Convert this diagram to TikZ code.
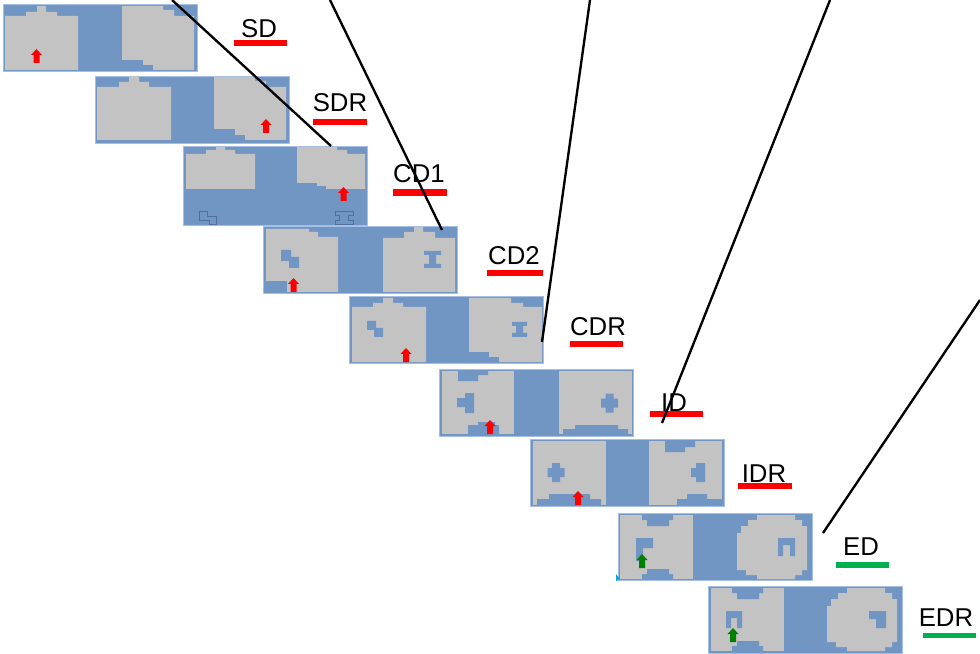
\documentclass[tikz,border=0pt]{standalone}
\usepackage{fontspec}
\setmainfont{Liberation Sans}
\usetikzlibrary{calc}

\definecolor{panelblue}{RGB}{113,150,196}
\definecolor{paneledge}{RGB}{165,192,228}
\definecolor{blobgray}{RGB}{195,195,195}
\definecolor{markgreen}{RGB}{0,128,0}
\definecolor{bargreen}{RGB}{0,176,80}
\definecolor{outlineblue}{RGB}{70,95,135}
\definecolor{cornercyan}{RGB}{0,170,230}

\tikzset{
  panel/.style={draw=paneledge, fill=panelblue, line width=0.8pt, anchor=north west,
    inner sep=0pt, minimum width=5.82cm, minimum height=2.01cm},
  blob/.style={fill=blobgray},
  hole/.style={fill=panelblue},
  ghost/.style={draw=outlineblue, line width=0.6pt, opacity=0.7},
  tag/.style={anchor=base, font=\fontsize{22}{24}\selectfont, inner sep=0pt},
  redbar/.style={fill=red},
  greenbar/.style={fill=bargreen},
  conn/.style={line width=2pt, black},
}

% block arrow, bottom centre at (#1,#2)
\newcommand{\markarrow}[3]{%
  \fill[#3] (#1,#2) ++(-3,0) -- ++(0,-8) -- ++(-2.5,0) -- ++(5.5,-6)
    -- ++(5.5,6) -- ++(-2.5,0) -- ++(0,8) -- cycle;}

\begin{document}
\begin{tikzpicture}[x=0.03cm, y=-0.03cm]
  \useasboundingbox (0,0) rectangle (980,654);

  % panels
  \node[panel] (pSD) at (3,4) {};
  \node[panel] (pSDR) at (95,76) {};
  \node[panel, minimum width=5.52cm, minimum height=2.37cm] (pCD1) at (183,146) {};
  \node[panel] (pCD2) at (263,226) {};
  \node[panel] (pCDR) at (349,296) {};
  \node[panel] (pID) at (439,369) {};
  \node[panel] (pIDR) at (530,439) {};
  \node[panel] (pED) at (618,513) {};
  \node[panel] (pEDR) at (708,586) {};

  \begin{scope}[shift={(pSD.north west)}]
    \fill[blob] (2,12) -- ++(21,0) -- ++(0,-4) -- ++(11,0) -- ++(0,-6) -- ++(9,0)
      -- ++(0,6) -- ++(11,0) -- ++(0,4) -- ++(21,0) -- ++(0,54) -- ++(-73,0) -- cycle;
    \fill[blob] (119,2) -- ++(41,0) -- ++(0,4) -- ++(11,0) -- ++(0,6) -- ++(20,0)
      -- ++(0,54) -- ++(-41,0) -- ++(0,-5) -- ++(-10,0) -- ++(0,-5) -- ++(-21,0) -- cycle;
    \markarrow{33.5}{59}{red}
  \end{scope}

  \begin{scope}[shift={(pSDR.north west)}]
    \fill[blob] (2,11) -- ++(22,0) -- ++(0,-5) -- ++(10,0) -- ++(0,-6) -- ++(10,0)
      -- ++(0,6) -- ++(10,0) -- ++(0,5) -- ++(22,0) -- ++(0,53) -- ++(-74,0) -- cycle;
    \fill[blob] (119,1) -- ++(41,0) -- ++(0,4) -- ++(11,0) -- ++(0,6) -- ++(20,0)
      -- ++(0,53) -- ++(-41,0) -- ++(0,-5) -- ++(-10,0) -- ++(0,-6) -- ++(-21,0) -- cycle;
    \markarrow{171}{57}{red}
  \end{scope}

  \begin{scope}[shift={(pCD1.north west)}]
    \fill[blob] (3,8) -- ++(20,0) -- ++(0,-4) -- ++(10,0) -- ++(0,-3) -- ++(9,0)
      -- ++(0,3) -- ++(10,0) -- ++(0,4) -- ++(20,0) -- ++(0,35) -- ++(-69,0) -- cycle;
    \fill[blob] (114,1) -- ++(40,0) -- ++(0,3) -- ++(10,0) -- ++(0,4) -- ++(18,0)
      -- ++(0,35) -- ++(-39,0) -- ++(0,-3) -- ++(-9,0) -- ++(0,-3) -- ++(-20,0) -- cycle;
    \markarrow{160.5}{55}{red}
    \draw[ghost] (16,65) -- ++(8,0) -- ++(0,5) -- ++(9,0) -- ++(0,8) -- ++(-7,0)
      -- ++(0,-4) -- ++(-10,0) -- cycle;
    \draw[ghost] (152,65) -- ++(18,0) -- ++(0,4) -- ++(-4.5,0) -- ++(0,5) -- ++(4.5,0)
      -- ++(0,4) -- ++(-18,0) -- ++(0,-4) -- ++(4.5,0) -- ++(0,-5) -- ++(-4.5,0) -- cycle;
    \coordinate (endA) at (148,0);
  \end{scope}

  \begin{scope}[shift={(pCD2.north west)}]
    \fill[blob] (3,3) -- ++(43,0) -- ++(0,3) -- ++(9,0) -- ++(0,5) -- ++(20,0)
      -- ++(0,55) -- ++(-51,0) -- ++(0,-11) -- ++(-21,0) -- cycle;
    \fill[hole] (18,24) -- ++(10,0) -- ++(0,7) -- ++(8,0) -- ++(0,11) -- ++(-10,0)
      -- ++(0,-7) -- ++(-8,0) -- cycle;
    \fill[blob] (120,12) -- ++(21,0) -- ++(0,-6) -- ++(10,0) -- ++(0,-5) -- ++(9,0)
      -- ++(0,5) -- ++(12,0) -- ++(0,6) -- ++(20,0) -- ++(0,54) -- ++(-72,0) -- cycle;
    \fill[hole] (161,25) -- ++(17,0) -- ++(0,4) -- ++(-5,0) -- ++(0,9) -- ++(5,0)
      -- ++(0,4) -- ++(-17,0) -- ++(0,-4) -- ++(5,0) -- ++(0,-9) -- ++(-5,0) -- cycle;
    \markarrow{30.5}{66}{red}
    \coordinate (endB) at (179,4);
  \end{scope}

  \begin{scope}[shift={(pCDR.north west)}]
    \fill[blob] (3,11) -- ++(21,0) -- ++(0,-4) -- ++(10,0) -- ++(0,-5) -- ++(10,0)
      -- ++(0,5) -- ++(10,0) -- ++(0,4) -- ++(23,0) -- ++(0,55) -- ++(-74,0) -- cycle;
    \fill[hole] (18,25) -- ++(9,0) -- ++(0,7) -- ++(7,0) -- ++(0,9) -- ++(-9,0)
      -- ++(0,-7) -- ++(-7,0) -- cycle;
    \fill[blob] (120,2) -- ++(42,0) -- ++(0,5) -- ++(12,0) -- ++(0,4) -- ++(19,0)
      -- ++(0,55) -- ++(-43,0) -- ++(0,-5) -- ++(-10,0) -- ++(0,-5) -- ++(-20,0) -- cycle;
    \fill[hole] (163,26) -- ++(15,0) -- ++(0,4) -- ++(-4,0) -- ++(0,7) -- ++(4,0)
      -- ++(0,4) -- ++(-15,0) -- ++(0,-4) -- ++(4,0) -- ++(0,-7) -- ++(-4,0) -- cycle;
    \markarrow{57}{66}{red}
    \coordinate (endC) at (193,46);
  \end{scope}

  \begin{scope}[shift={(pID.north west)}]
    \fill[blob] (3,2) rectangle (75,65);
    \fill[hole] (19,2) -- ++(30,0) -- ++(0,4) -- ++(-10,0) -- ++(0,6) -- ++(-20,0) -- cycle;
    \fill[hole] (26,24) -- ++(9,0) -- ++(0,20) -- ++(-9,0) -- ++(0,-6) -- ++(-8,0)
      -- ++(0,-9) -- ++(8,0) -- cycle;
    \fill[hole] (29,65) -- ++(0,-9) -- ++(10,0) -- ++(0,-3) -- ++(17,0) -- ++(0,3)
      -- ++(4,0) -- ++(0,9) -- cycle;
    \fill[blob] (120,2) rectangle (193,65);
    \fill[hole] (124,65) -- ++(0,-5) -- ++(12,0) -- ++(0,-4) -- ++(43,0) -- ++(0,4)
      -- ++(10,0) -- ++(0,5) -- cycle;
    \fill[hole] (166.5,24.5) -- ++(8,0) -- ++(0,5) -- ++(4.5,0) -- ++(0,9) -- ++(-4.5,0)
      -- ++(0,5) -- ++(-8,0) -- ++(0,-5) -- ++(-4.5,0) -- ++(0,-9) -- ++(4.5,0) -- cycle;
    \markarrow{51}{65}{red}
    \coordinate (endD) at (223,54);
  \end{scope}

  \begin{scope}[shift={(pIDR.north west)}]
    \fill[blob] (3,2) rectangle (76,66);
    \fill[hole] (7,66) -- ++(0,-6) -- ++(12,0) -- ++(0,-5) -- ++(41,0) -- ++(0,5)
      -- ++(11,0) -- ++(0,6) -- cycle;
    \fill[hole] (22,24) -- ++(8,0) -- ++(0,5) -- ++(4.5,0) -- ++(0,9) -- ++(-4.5,0)
      -- ++(0,5) -- ++(-8,0) -- ++(0,-5) -- ++(-4.5,0) -- ++(0,-9) -- ++(4.5,0) -- cycle;
    \fill[blob] (119,2) rectangle (192,66);
    \fill[hole] (135,2) -- ++(30,0) -- ++(0,6) -- ++(-10,0) -- ++(0,5) -- ++(-20,0) -- cycle;
    \fill[hole] (166,24) -- ++(9,0) -- ++(0,19) -- ++(-9,0) -- ++(0,-5) -- ++(-5,0)
      -- ++(0,-9) -- ++(5,0) -- cycle;
    \fill[hole] (147,66) -- ++(0,-6) -- ++(10,0) -- ++(0,-5) -- ++(20,0) -- ++(0,5)
      -- ++(15,0) -- ++(0,6) -- cycle;
    \markarrow{48}{66}{red}
  \end{scope}

  \begin{scope}[shift={(pED.north west)}]
    \fill[blob] (2,2) rectangle (75,66);
    \fill[hole] (24,2) -- ++(31,0) -- ++(0,5) -- ++(-4,0) -- ++(0,6) -- ++(-22,0)
      -- ++(0,-6) -- ++(-5,0) -- cycle;
    \fill[hole] (24,66) -- ++(31,0) -- ++(0,-5) -- ++(-4,0) -- ++(0,-5) -- ++(-22,0)
      -- ++(0,5) -- ++(-5,0) -- cycle;
    \fill[hole] (18,25) -- ++(17,0) -- ++(0,10) -- ++(-10,0) -- ++(0,13) -- ++(-7,0) -- cycle;
    \fill[blob] (139,2) -- ++(38,0) -- ++(0,5) -- ++(7,0) -- ++(0,6) -- ++(5,0)
      -- ++(0,44) -- ++(-5,0) -- ++(0,5) -- ++(-7,0) -- ++(0,4) -- ++(-38,0)
      -- ++(0,-4) -- ++(-11,0) -- ++(0,-5) -- ++(-9,0) -- ++(0,-37) -- ++(4,0)
      -- ++(0,-7) -- ++(7,0) -- ++(0,-6) -- ++(9,0) -- cycle;
    \fill[hole] (160,43) -- ++(0,-18) -- ++(17,0) -- ++(0,18) -- ++(-5,0) -- ++(0,-11)
      -- ++(-7,0) -- ++(0,11) -- cycle;
    \markarrow{24}{55}{markgreen}
    \fill[cornercyan] (-2,61) -- (2,66) -- (-2,68) -- cycle;
    \coordinate (endE) at (205,20);
  \end{scope}

  \begin{scope}[shift={(pEDR.north west)}]
    \fill[blob] (3,2) rectangle (76,65);
    \fill[hole] (24,2) -- ++(31,0) -- ++(0,5) -- ++(-4,0) -- ++(0,6) -- ++(-22,0)
      -- ++(0,-6) -- ++(-5,0) -- cycle;
    \fill[hole] (24,65) -- ++(31,0) -- ++(0,-5) -- ++(-4,0) -- ++(0,-5) -- ++(-22,0)
      -- ++(0,5) -- ++(-5,0) -- cycle;
    \fill[hole] (18,42) -- ++(0,-17) -- ++(16,0) -- ++(0,17) -- ++(-5,0) -- ++(0,-10)
      -- ++(-6,0) -- ++(0,10) -- cycle;
    \fill[blob] (139,2) -- ++(38,0) -- ++(0,5) -- ++(7,0) -- ++(0,6) -- ++(5,0)
      -- ++(0,43) -- ++(-5,0) -- ++(0,5) -- ++(-7,0) -- ++(0,4) -- ++(-38,0)
      -- ++(0,-4) -- ++(-11,0) -- ++(0,-5) -- ++(-9,0) -- ++(0,-36) -- ++(4,0)
      -- ++(0,-7) -- ++(7,0) -- ++(0,-6) -- ++(9,0) -- cycle;
    \fill[hole] (161,25) -- ++(17,0) -- ++(0,17) -- ++(-10,0) -- ++(0,-9) -- ++(-7,0) -- cycle;
    \markarrow{25}{56}{markgreen}
  \end{scope}

  % labels
  \node[tag] (tSD) at (259,38) {SD};
  \node[tag] (tSDR) at (340,112) {SDR};
  \node[tag] (tCD1) at (419,183) {CD1};
  \node[tag] (tCD2) at (514,265) {CD2};
  \node[tag] (tCDR) at (598,336) {CDR};
  \node[tag] (tID) at (674,411) {ID};
  \node[tag] (tIDR) at (764,482) {IDR};
  \node[tag] (tED) at (861,555) {ED};
  \node[tag] (tEDR) at (946,626) {EDR};

  \fill[redbar] (234,40) rectangle (287,46);
  \fill[redbar] (313,119) rectangle (367,125);
  \fill[redbar] (393,189) rectangle (447,196);
  \fill[redbar] (487,270) rectangle (543,276);
  \fill[redbar] (570,341) rectangle (623,347);
  \fill[redbar] (650,411) rectangle (703,417);
  \fill[redbar] (738,483) rectangle (792,489);
  \fill[greenbar] (836,562) rectangle (889,568);
  \fill[greenbar] (923,633) rectangle (976,638);

  % pointer lines
  \coordinate (topA) at (172,0);
  \coordinate (topB) at (330,0);
  \coordinate (topC) at (590,0);
  \coordinate (topD) at (830,0);
  \coordinate (topE) at (980,300);
  \draw[conn] (topA) -- (endA);
  \draw[conn] (topB) -- (endB);
  \draw[conn] (topC) -- (endC);
  \draw[conn] (topD) -- (endD);
  \draw[conn] (topE) -- (endE);
\end{tikzpicture}
\end{document}
